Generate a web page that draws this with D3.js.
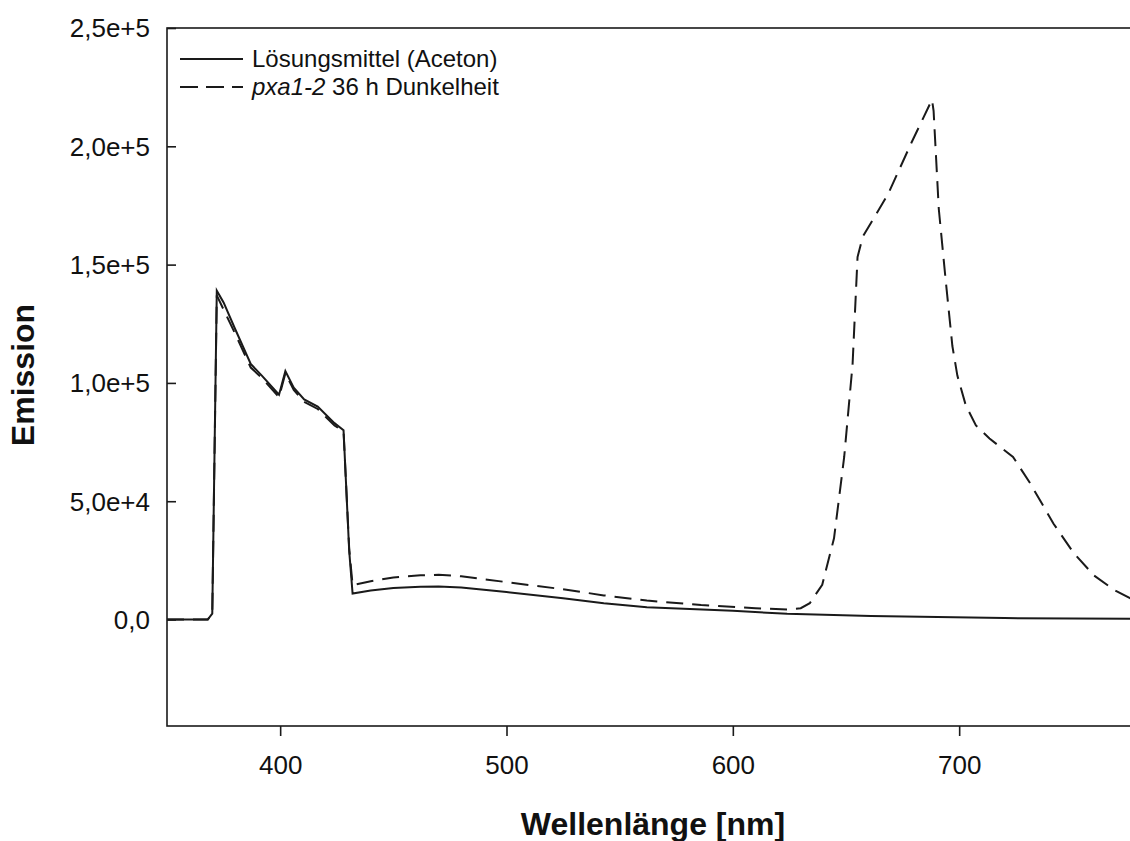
<!DOCTYPE html>
<html>
<head>
<meta charset="utf-8">
<script src="https://cdn.jsdelivr.net/npm/d3@7"></script>
<style>
  body { margin: 0; background: #fff; }
  text { font-family: "Liberation Sans", Arial, sans-serif; fill: #111; }
</style>
</head>
<body>
<div id="viz"></div>
<script>
// solvent (Aceton) spectrum
var solidNm  = [350, 368, 370, 372, 375, 380, 387, 392, 399.5, 402.3, 406, 410.6, 416.6, 424, 428, 430.5, 432, 440, 450, 462, 470, 480, 500, 525, 543, 562, 600, 624, 661, 720, 776, 800]
var solidVal = [0, 0, 2500, 139000, 134000, 123000, 108000, 103000, 95000, 105000, 98000, 93000, 90000, 83000, 80000, 29000, 11000, 12300, 13300, 13900, 14000, 13500, 11600, 9000, 6900, 5200, 3700, 2400, 1500, 600, 300, 250]

// pxa1-2 36 h darkness
var dashNm  = [350, 368, 370, 372, 375, 380, 387, 392, 399.5, 402.3, 406, 410.6, 416.6, 424, 428, 430.5, 432, 440, 450, 462, 470, 480, 500, 525, 543, 562, 586, 610, 624, 630, 634, 639.5, 644.7, 649.2, 652.9, 655.1, 657.4, 668.6, 679, 688, 688.7, 691, 694, 697, 699.2, 702.9, 707.4, 713.4, 723.8, 731.3, 741.7, 750.7, 759.6, 768.6, 775.7, 800]
var dashVal = [0, 0, 2500, 137000, 131000, 121000, 106500, 102000, 94000, 104000, 97000, 92000, 89000, 82000, 79500, 30000, 14500, 16200, 17800, 18700, 18900, 18300, 15800, 12800, 10200, 8000, 6100, 4800, 4200, 4800, 6900, 14700, 34300, 68700, 107800, 153200, 161800, 179800, 201700, 219700, 215000, 173500, 143800, 115600, 103100, 90600, 82000, 76500, 68700, 57700, 40500, 28000, 18600, 12400, 8900, 3000]

var xTicks = [400, 500, 600, 700]
var yTicks = [0, 50000, 100000, 150000, 200000, 250000]
var legendLabels = ['Lösungsmittel (Aceton)', ['pxa1-2', ' 36 h Dunkelheit']]

const w = 1130, h = 841
const mLeft = 167, mTop = 28, mBottom = 726, mRight = 1185.5
const fs = 26

var svg = d3.select('#viz').append('svg')
  .attr('width', w).attr('height', h)

var x = d3.scaleLinear().domain([350, 800]).range([mLeft, mRight])
var y = d3.scaleLinear().domain([-45000, 250000]).range([mBottom, mTop])

// y label like "1,5e+5"
var fmt = function(v) {
  if (v === 0) return '0,0'
  var e = Math.floor(Math.log10(v))
  return (v / Math.pow(10, e)).toFixed(1).replace('.', ',') + 'e+' + e
}

svg.append('defs').append('clipPath').attr('id', 'clip')
  .append('rect').attr('x', mLeft).attr('y', mTop)
  .attr('width', mRight - mLeft).attr('height', mBottom - mTop)

// frame
svg.append('rect')
  .attr('x', mLeft).attr('y', mTop)
  .attr('width', mRight - mLeft).attr('height', mBottom - mTop)
  .attr('fill', 'none').attr('stroke', '#1a1a1a').attr('stroke-width', 1.6)

// x axis
var xAxis = svg.append('g')
  .attr('transform', 'translate(0,' + mBottom + ')')
  .call(d3.axisBottom(x).tickValues(xTicks).tickSize(10).tickFormat(d3.format('d')))
xAxis.select('.domain').remove()
xAxis.selectAll('.tick line').attr('stroke', '#1a1a1a').attr('stroke-width', 1.6)
xAxis.selectAll('.tick text')
  .attr('y', 48).attr('dy', null)
  .attr('font-size', fs).attr('font-family', '"Liberation Sans", Arial, sans-serif').attr('fill', '#111')

// y axis, ticks inside
var yAxis = svg.append('g')
  .attr('transform', 'translate(' + mLeft + ',0)')
  .call(d3.axisRight(y).tickValues(yTicks).tickSize(9).tickFormat(''))
yAxis.select('.domain').remove()
yAxis.selectAll('.tick line').attr('stroke', '#1a1a1a').attr('stroke-width', 1.6)

svg.append('g').selectAll('text')
  .data(yTicks).enter().append('text')
  .attr('x', 150).attr('y', d => y(d))
  .attr('dy', '0.36em')
  .attr('text-anchor', 'end')
  .attr('font-size', fs)
  .text(d => fmt(d))

// lines
var line = d3.line().x(d => x(d[0])).y(d => y(d[1]))
var plot = svg.append('g').attr('clip-path', 'url(#clip)')

plot.append('path')
  .datum(solidNm.map((n, i) => [n, solidVal[i]]))
  .attr('d', line)
  .attr('fill', 'none').attr('stroke', '#1a1a1a').attr('stroke-width', 2)

plot.append('path')
  .datum(dashNm.map((n, i) => [n, dashVal[i]]))
  .attr('d', line)
  .attr('fill', 'none').attr('stroke', '#1a1a1a').attr('stroke-width', 2)
  .attr('stroke-dasharray', '17,9')

// legend
var lg = svg.append('g')
lg.append('line').attr('x1', 180).attr('x2', 243).attr('y1', 59).attr('y2', 59)
  .attr('stroke', '#1a1a1a').attr('stroke-width', 2)
lg.append('line').attr('x1', 180).attr('x2', 243).attr('y1', 87).attr('y2', 87)
  .attr('stroke', '#1a1a1a').attr('stroke-width', 2).attr('stroke-dasharray', '18,8')
lg.append('text').attr('x', 252).attr('y', 67).attr('font-size', 24).text(legendLabels[0])
var t2 = lg.append('text').attr('x', 252).attr('y', 95).attr('font-size', 24)
t2.append('tspan').attr('font-style', 'italic').text(legendLabels[1][0])
t2.append('tspan').text(legendLabels[1][1])

// axis titles
svg.append('text')
  .attr('transform', 'translate(34,375) rotate(-90)')
  .attr('text-anchor', 'middle')
  .attr('font-size', 32).attr('font-weight', 'bold')
  .text('Emission')

svg.append('text')
  .attr('x', 653).attr('y', 835)
  .attr('text-anchor', 'middle')
  .attr('font-size', 32).attr('font-weight', 'bold')
  .text('Wellenlänge [nm]')
</script>
</body>
</html>
